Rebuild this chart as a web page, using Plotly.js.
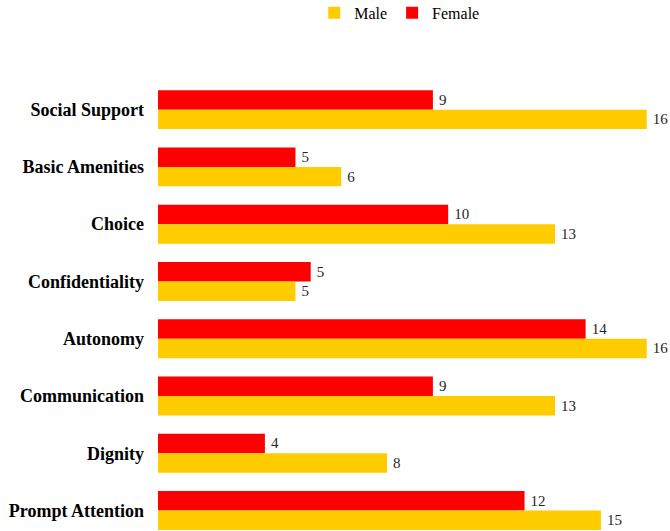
<!DOCTYPE html>
<html>
<head>
<meta charset="utf-8">
<script src="https://cdn.plot.ly/plotly-3.0.1.min.js"></script>
<style>html,body{margin:0;padding:0;background:#fff;}#chart{width:670px;height:531px;}</style>
</head>
<body>
<div id="chart"></div>
<script>
const categories = ["Social Support", "Basic Amenities", "Choice", "Confidentiality", "Autonomy", "Communication", "Dignity", "Prompt Attention"];
const maleValues = [16, 6, 13, 4.5, 16, 13, 7.5, 14.5];
const femaleValues = [9, 4.5, 9.5, 5, 14, 9, 3.5, 12];

const fontFam = "'Palatino Linotype', 'Book Antiqua', Palatino, 'Liberation Serif', serif";

const female = {
  type: 'bar', orientation: 'h', name: 'Female',
  y: categories, x: femaleValues,
  text: femaleValues.map(v => '\u2009' + Math.round(v)),
  textposition: 'outside', cliponaxis: false,
  textfont: {family: fontFam, size: 15, color: '#262626'},
  marker: {color: '#FF0000'},
  hoverinfo: 'none'
};
const male = {
  type: 'bar', orientation: 'h', name: 'Male',
  y: categories, x: maleValues,
  text: maleValues.map(v => '\u2009' + Math.round(v)),
  textposition: 'outside', cliponaxis: false,
  textfont: {family: fontFam, size: 15, color: '#262626'},
  marker: {color: '#FFCC00'},
  hoverinfo: 'none'
};

const layout = {
  width: 670, height: 531,
  margin: {l: 158, r: 8, t: 81, b: 0},
  paper_bgcolor: '#fff', plot_bgcolor: '#fff',
  font: {family: fontFam, color: '#000'},
  barmode: 'group', bargap: 0.32, bargroupgap: 0,
  showlegend: true,
  legend: {orientation: 'h', x: 0.31, xanchor: 'left', yref: 'container', y: 0.976, yanchor: 'middle',
           traceorder: 'reversed', font: {family: fontFam, size: 16, color: '#000'},
           itemwidth: 30},
  xaxis: {range: [0, 16.5], visible: false, showgrid: false, zeroline: false},
  yaxis: {range: [7.358, -0.5], type: 'category', showgrid: false, zeroline: false,
          showline: false, ticks: '', ticklabelstandoff: 13,
          tickfont: {family: fontFam, size: 18, color: '#000', weight: 'bold'}}
};

Plotly.newPlot('chart', [female, male], layout, {displayModeBar: false, staticPlot: true});
</script>
</body>
</html>
